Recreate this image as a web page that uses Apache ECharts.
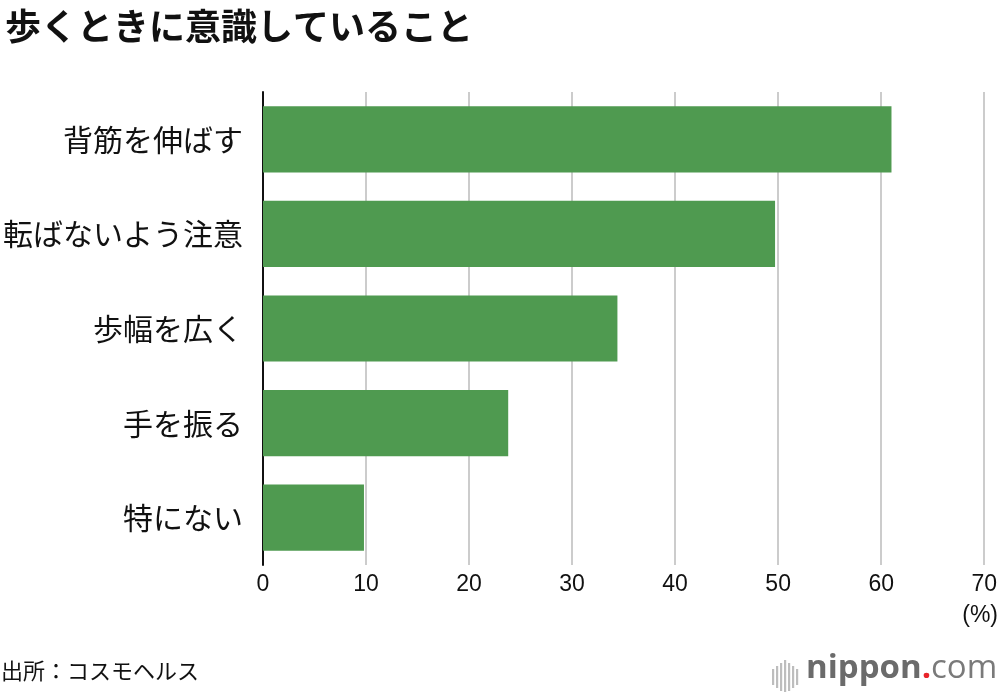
<!DOCTYPE html>
<html><head><meta charset="utf-8">
<script src="https://cdn.jsdelivr.net/npm/echarts@6/dist/echarts.min.js"></script>
<style>html,body{margin:0;padding:0;background:#fff}#c{width:1000px;height:696px}</style>
</head><body><div id="c"></div>
<script>
const categories = ['背筋を伸ばす','転ばないよう注意','歩幅を広く','手を振る','特にない'];
const values = [61.0, 49.7, 34.4, 23.8, 9.8];
const xTicks = [0,10,20,30,40,50,60,70];
const titleText = '歩くときに意識していること';
const sourceText = '出所：コスモヘルス';
const unitText = '(%)';

const FONT = '"Noto Sans CJK JP","Noto Sans",sans-serif';
const NUMFONT = '"Liberation Sans",Arial,sans-serif';
const chart = echarts.init(document.getElementById('c'), null, {renderer:'canvas'});

const iconBars = [[0,10,16],[4,7,22],[8,4,28],[12,1,32],[16,4,28],[20,7,22],[24,10,16]];
const iconGraphics = iconBars.map(b => ({
  type:'rect', left: 772 + b[0], top: 659 + b[1],
  shape:{width:2.2, height:b[2]}, style:{fill:'#bdbdbd'}
}));

chart.setOption({
  animation:false,
  textStyle:{fontFamily:FONT},
  title:{
    text:titleText, left:0, top:3,
    textStyle:{fontSize:36, fontWeight:'bold', color:'#111', fontFamily:FONT}
  },
  grid:{left:262, right:15, top:92, bottom:131, containLabel:false},
  xAxis:{
    type:'value', min:0, max:70, interval:10,
    axisLine:{show:false}, axisTick:{show:false},
    splitLine:{show:true, lineStyle:{color:'#cccccc', width:2}},
    axisLabel:{fontSize:23, color:'#111', margin:8, fontFamily:NUMFONT,
      formatter:v => xTicks.includes(v) ? String(v) : ''}
  },
  yAxis:{
    type:'category', data:categories, inverse:true,
    axisLine:{show:true, lineStyle:{color:'#111', width:2}},
    axisTick:{show:false},
    axisLabel:{fontSize:30, color:'#111', margin:20, fontFamily:FONT}
  },
  series:[{
    type:'bar', data:values, barWidth:'70%',
    itemStyle:{color:'#4f9a50'}, z:3
  }],
  graphic:[
    {type:'text', right:2, top:604, style:{text:unitText, fill:'#111', font:'23px "Liberation Sans",Arial,sans-serif'}},
    {type:'text', left:1, top:660, style:{text:sourceText, fill:'#111', font:'22px "Noto Sans CJK JP",sans-serif'}},
    ...iconGraphics,
    {type:'text', left:806, top:652, style:{
      rich:{
        a:{fontSize:33, fontWeight:'bold', fill:'#6b6b6b', fontFamily:'"Open Sans",sans-serif'},
        d:{fontSize:33, fontWeight:'bold', fill:'#e8242a', fontFamily:'"Open Sans",sans-serif'},
        c:{fontSize:33, fill:'#7a7a7a', fontFamily:'"Open Sans",sans-serif'}
      },
      text:'{a|nippon}{d|.}{c|com}'
    }}
  ]
});
</script></body></html>
